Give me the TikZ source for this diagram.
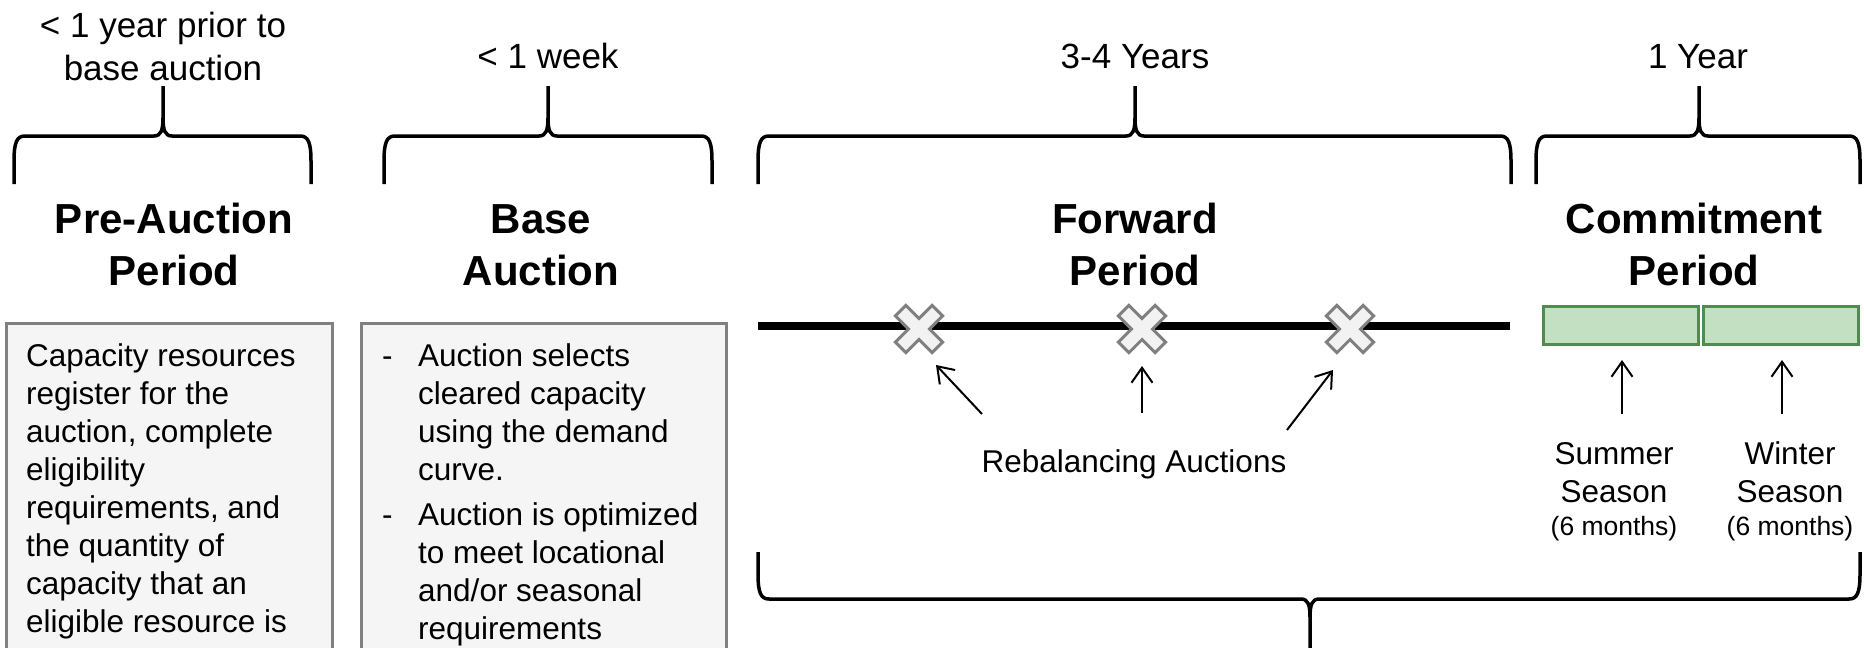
\documentclass[tikz,border=0pt]{standalone}
\usepackage{fontspec}
\setmainfont{Liberation Sans}
\usetikzlibrary{arrows.meta}
\definecolor{boxfill}{RGB}{245,245,245}
\definecolor{boxline}{RGB}{128,128,128}
\definecolor{gfill}{RGB}{195,224,195}
\definecolor{gline}{RGB}{80,140,80}
\definecolor{xfill}{RGB}{242,242,242}
\definecolor{xline}{RGB}{128,128,128}
% brace: #1 left x, #2 right x, #3 cusp x, #4 end y, #5 bar y, #6 cusp tip y, #7 sign
\newcommand{\tbrace}[7]{%
  \draw[bracestyle] (#1,#4) -- (#1,{#5+25*(#7)}) .. controls (#1,{#5+6*(#7)}) and ({#1+3},#5) .. ({#1+11},#5)
    -- ({#3-9},#5) .. controls ({#3-2},#5) and (#3,{#5-6*(#7)}) .. (#3,{#5-18*(#7)}) -- (#3,#6);
  \draw[bracestyle] (#2,#4) -- (#2,{#5+25*(#7)}) .. controls (#2,{#5+6*(#7)}) and ({#2-3},#5) .. ({#2-11},#5)
    -- ({#3+9},#5) .. controls ({#3+2},#5) and (#3,{#5-6*(#7)}) .. (#3,{#5-18*(#7)});
}
\newcommand{\xshape}[1]{%
  \draw[xmk,shift={(#1)},rotate=45] (-7.5,26)--(7.5,26)--(7.5,7.5)--(26,7.5)--(26,-7.5)--(7.5,-7.5)--(7.5,-26)
    --(-7.5,-26)--(-7.5,-7.5)--(-26,-7.5)--(-26,7.5)--(-7.5,7.5)--cycle;
}
\begin{document}
\begin{tikzpicture}[x=1pt,y=-1pt,
  bracestyle/.style={line width=3.5pt, line cap=butt, line join=round},
  xmk/.style={draw=xline, fill=xfill, line width=3pt, line join=miter},
  lbl/.style={font=\fontsize{35}{43}\selectfont, align=center, inner sep=0pt, anchor=base},
  ttl/.style={font=\fontsize{42}{52}\selectfont\bfseries, align=center, inner sep=0pt, anchor=base},
  body/.style={font=\fontsize{31.5}{38}\selectfont, inner sep=0pt, anchor=base west},
  ctext/.style={font=\fontsize{31.5}{38}\selectfont, inner sep=0pt, anchor=base},
  small/.style={font=\fontsize{26.5}{30}\selectfont, inner sep=0pt, anchor=base},
  infobox/.style={draw=boxline, fill=boxfill, line width=3pt},
  season/.style={draw=gline, fill=gfill, line width=2.5pt},
  conn/.style={line width=2pt, -{Straight Barb[length=15pt,width=21pt,line width=2pt]}},
  timeline/.style={line width=8pt}
]
\useasboundingbox (0,0) rectangle (1864,648);
\clip (0,0) rectangle (1864,648);

% top labels (base anchor = baseline of the last line)
\node[lbl] (lab1) at (163,80) {< 1 year prior to\\base auction};
\node[lbl] (lab2) at (548,68) {< 1 week};
\node[lbl] (lab3) at (1135,68) {3-4 Years};
\node[lbl] (lab4) at (1698,68) {1 Year};

% braces
\tbrace{14}{311}{163}{184}{136}{86}{1}
\tbrace{384}{712}{548}{184}{136}{86}{1}
\tbrace{758}{1511}{1135}{184}{136}{86}{1}
\tbrace{1536}{1860}{1699}{184}{136}{86}{1}
\tbrace{758}{1860}{1310}{552}{599}{660}{-1}

% titles
\node[ttl] (t1) at (174,285) {Pre-Auction\\Period};
\node[ttl] (t2) at (541,285) {Base\\Auction};
\node[ttl] (t3) at (1135,285) {Forward\\Period};
\node[ttl] (t4) at (1694,285) {Commitment\\Period};

% info boxes
\draw[infobox] (6,323) rectangle (332,680);
\draw[infobox] (361,323) rectangle (726,680);
\foreach \t [count=\i from 0] in {{Capacity resources},{register for the},{auction, complete},{eligibility},{requirements, and},{the quantity of},{capacity that an},{eligible resource is}}
  \node[body] (p\i) at (26,{366+38*\i}) {\t};
\node[body] (d1) at (382,366) {-};
\node[body] (d2) at (382,525) {-};
\foreach \t [count=\i from 0] in {{Auction selects},{cleared capacity},{using the demand},{curve.}}
  \node[body] (q\i) at (418,{366+38*\i}) {\t};
\foreach \t [count=\i from 0] in {{Auction is optimized},{to meet locational},{and/or seasonal},{requirements}}
  \node[body] (r\i) at (418,{525+38*\i}) {\t};

% forward period timeline
\coordinate (tlA) at (758,326);
\coordinate (tlB) at (1510,326);
\draw[timeline] (tlA) -- (tlB);
\coordinate (x1) at (919,329);
\coordinate (x2) at (1142,329);
\coordinate (x3) at (1350,329);
\xshape{x1}
\xshape{x2}
\xshape{x3}
\node[ctext] (reb) at (1134,472) {Rebalancing Auctions};
\coordinate (a1s) at (982,414);  \coordinate (a1e) at (936,365);
\coordinate (a2s) at (1142,413); \coordinate (a2e) at (1142,366);
\coordinate (a3s) at (1287,430); \coordinate (a3e) at (1333,370);
\draw[conn] (a1s) -- (a1e);
\draw[conn] (a2s) -- (a2e);
\draw[conn] (a3s) -- (a3e);

% commitment seasons
\node[season, minimum width=155pt, minimum height=38pt, inner sep=0pt, anchor=north west] (sum) at (1542,305) {};
\node[season, minimum width=155pt, minimum height=38pt, inner sep=0pt, anchor=north west] (win) at (1702,305) {};
\node[ctext] (sumA) at (1614,464) {Summer};
\node[ctext] (sumB) at (1614,502) {Season};
\node[small] (sumC) at (1614,535) {(6 months)};
\node[ctext] (winA) at (1790,464) {Winter};
\node[ctext] (winB) at (1790,502) {Season};
\node[small] (winC) at (1790,535) {(6 months)};
\coordinate (s1s) at (1622,414); \coordinate (s1e) at (1622,360);
\coordinate (s2s) at (1782,414); \coordinate (s2e) at (1782,360);
\draw[conn] (s1s) -- (s1e);
\draw[conn] (s2s) -- (s2e);
\end{tikzpicture}
\end{document}
